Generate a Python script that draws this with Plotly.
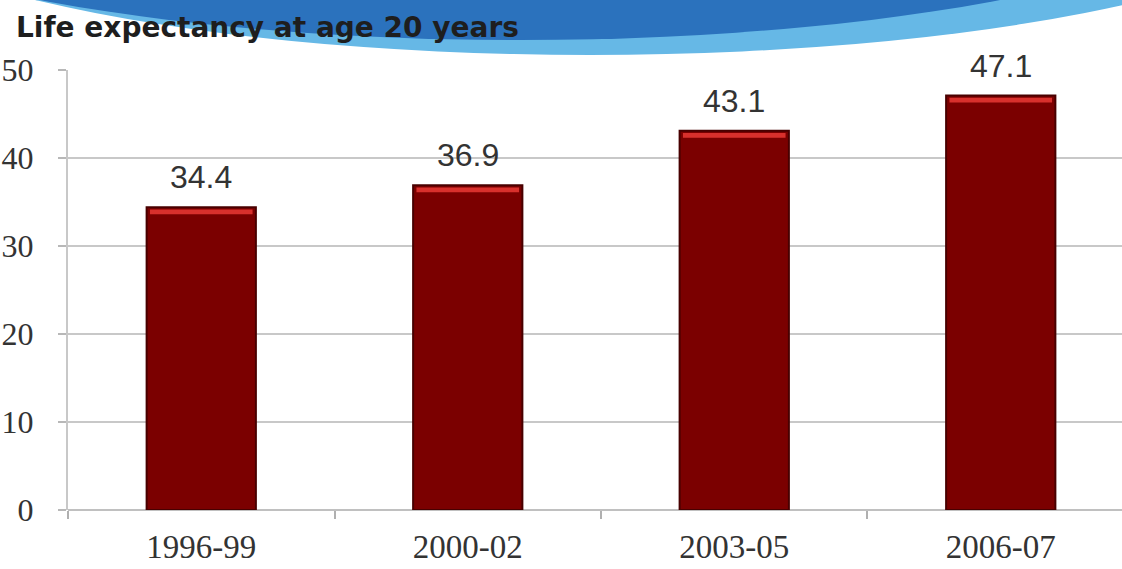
import plotly.graph_objects as go

periods = ["1996-99", "2000-02", "2003-05", "2006-07"]
life_expectancy = [34.4, 36.9, 43.1, 47.1]
value_labels = ["34.4", "36.9", "43.1", "47.1"]
y_ticks = [0, 10, 20, 30, 40, 50]

W, H = 1122, 569
L, R, T, B = 68, 0, 70, 59

fig = go.Figure()

fig.add_trace(go.Bar(
    x=periods, y=life_expectancy, width=0.41,
    marker=dict(color="#7b0000", line=dict(color="#480000", width=2)),
    hoverinfo="x+y", showlegend=False,
))
# glossy highlight strip near top of each bar
fig.add_trace(go.Bar(
    x=periods, y=[0.55] * len(periods), base=[v - 0.8 for v in life_expectancy],
    width=0.385, marker=dict(color="#d8302c", line=dict(width=0)),
    hoverinfo="skip", showlegend=False,
))

for p, v, t in zip(periods, life_expectancy, value_labels):
    fig.add_annotation(x=p, y=v, text=t, showarrow=False, yanchor="bottom", yshift=10,
                       font=dict(family="Liberation Sans, Arial, sans-serif", size=32, color="#333333"))

def px(X):
    return (X - L) / (W - L - R)

def py(Y):
    return (H - B - Y) / (H - T - B)

# decorative blue swoosh at top (background)
fig.add_shape(type="circle", xref="paper", yref="paper", layer="below",
              x0=px(590 - 780), x1=px(590 + 780), y0=py(-130 + 185), y1=py(-130 - 185),
              fillcolor="#66b8e6", line=dict(width=0))
fig.add_shape(type="circle", xref="paper", yref="paper", layer="below",
              x0=px(520 - 745), x1=px(520 + 745), y0=py(-130 + 170), y1=py(-130 - 170),
              fillcolor="#2b72bd", line=dict(width=0))

fig.add_annotation(xref="paper", yref="paper", x=px(14), y=py(27), xanchor="left", yanchor="middle",
                   text="<b>Life expectancy at age 20 years</b>", showarrow=False,
                   font=dict(family="DejaVu Sans, Verdana, sans-serif", size=28, color="#1e1e1e"))

fig.update_layout(
    width=W, height=H, barmode="overlay",
    margin=dict(l=L, r=R, t=T, b=B),
    paper_bgcolor="white", plot_bgcolor="rgba(0,0,0,0)",
)
fig.update_xaxes(
    type="category", range=[-0.5, 3.455], tickson="boundaries",
    ticks="outside", ticklen=8, tickcolor="#b0b0b0", tickwidth=1.5,
    ticklabelstandoff=14,
    showline=False, showgrid=False,
    tickfont=dict(family="Liberation Serif, Times New Roman, serif", size=33, color="#333333"),
)
fig.update_yaxes(
    range=[0, 50], tickvals=y_ticks, ticks="outside", ticklen=8, tickcolor="#b8b8b8", tickwidth=1.5,
    ticklabelstandoff=18,
    showgrid=True, gridcolor="#c8c8c8", gridwidth=2,
    zeroline=True, zerolinecolor="#c0c0c0", zerolinewidth=2,
    showline=True, linecolor="#c8c8c8", linewidth=2,
    tickfont=dict(family="Liberation Serif, Times New Roman, serif", size=32, color="#333333"),
)

fig.write_html("out.html", config={"displayModeBar": False},
               post_script="document.body.style.margin='0px';")
